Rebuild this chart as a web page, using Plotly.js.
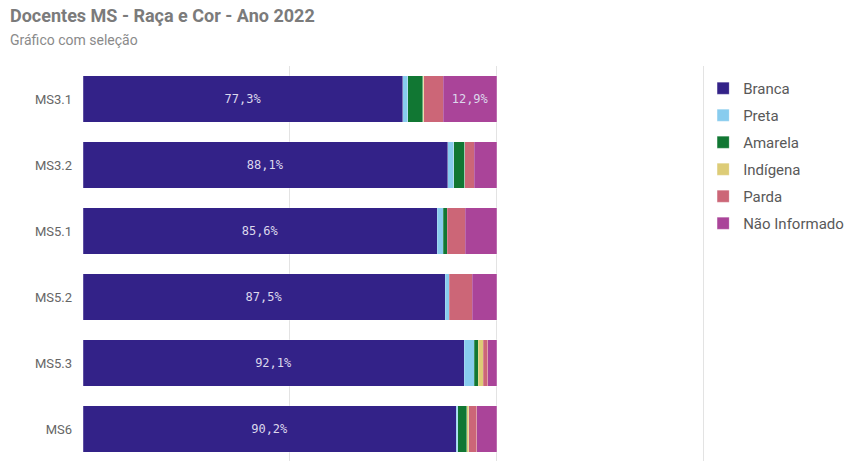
<!DOCTYPE html>
<html>
<head>
<meta charset="utf-8">
<script src="https://cdn.plot.ly/plotly-3.0.1.min.js"></script>
<style>
html,body{margin:0;padding:0;background:#fff;}
#chart{width:859px;height:461px;}
</style>
</head>
<body>
<div id="chart"></div>
<script>
const categories = ["MS3.1", "MS3.2", "MS5.1", "MS5.2", "MS5.3", "MS6"];
const seriesNames = ["Branca", "Preta", "Amarela", "Indígena", "Parda", "Não Informado"];
const branca      = [77.3, 88.1, 85.6, 87.5, 92.1, 90.2];
const preta       = [1.2, 1.5, 1.4, 1.0, 2.4, 0.3];
const amarela     = [3.6, 2.6, 1.0, 0.0, 1.0, 2.2];
const indigena    = [0.2, 0.0, 0.0, 0.0, 1.2, 0.5];
const parda       = [4.8, 2.3, 4.4, 5.5, 1.1, 2.0];
const naoInformado= [12.9, 5.5, 7.6, 6.0, 2.2, 4.8];
const colors = ["#332288", "#88ccee", "#117733", "#ddcc77", "#cc6677", "#aa4499"];

const seriesValues = [branca, preta, amarela, indigena, parda, naoInformado];
function fmt(v){ return v.toFixed(1).replace('.', ',') + '%'; }

const traces = seriesValues.map((vals, i) => {
  let text;
  if (i === 0) text = vals.map(fmt);
  else if (i === 5) text = vals.map(v => v >= 10 ? fmt(v) : '');
  else text = vals.map(() => '');
  return {
    type: 'bar',
    orientation: 'h',
    name: seriesNames[i],
    y: categories,
    x: vals,
    legendgroup: 'g' + i,
    marker: {color: colors[i], line: {color: 'rgba(255,255,255,0.35)', width: 0.6}},
    text: text,
    textposition: 'inside',
    insidetextanchor: 'middle',
    textangle: 0,
    textfont: {family: 'DejaVu Sans Mono', size: 12, color: '#dcd8ec'},
    hoverinfo: 'name+x'
  };
});

const layout = {
  width: 859, height: 461,
  barmode: 'stack',
  bargap: 0.3,
  paper_bgcolor: '#fff',
  plot_bgcolor: '#fff',
  margin: {l: 83, r: 154, t: 66, b: 0},
  font: {family: 'Roboto, sans-serif', color: '#595959'},
  showlegend: true,
  xaxis: {
    range: [0, 150.3],
    tickvals: [0, 50, 100, 150],
    showticklabels: false,
    showgrid: true,
    gridcolor: '#e3e3e3',
    gridwidth: 1,
    zeroline: false,
    fixedrange: true
  },
  yaxis: {
    type: 'category',
    categoryorder: 'array',
    categoryarray: categories,
    range: [5.485, -0.5],
    showgrid: false,
    zeroline: false,
    ticks: '',
    ticklen: 0,
    tickfont: {size: 13, color: '#666666'},
    ticklabelstandoff: 10
  },
  legend: {
    x: 0.997, xanchor: 'left',
    y: 0.985, yanchor: 'top',
    traceorder: 'grouped',
    tracegroupgap: 4.5,
    font: {size: 15, color: '#595959'},
    bgcolor: 'rgba(0,0,0,0)'
  },
  annotations: [
    {text: '<b>Docentes MS - Raça e Cor - Ano 2022</b>', xref: 'paper', yref: 'paper',
     x: 0, y: 1, xanchor: 'left', yanchor: 'top', showarrow: false,
     xshift: -75, yshift: 63, font: {size: 18, color: '#7b7b7b'}},
    {text: 'Gráfico com seleção', xref: 'paper', yref: 'paper',
     x: 0, y: 1, xanchor: 'left', yanchor: 'top', showarrow: false,
     xshift: -75, yshift: 36, font: {size: 14, color: '#8a8a8a'}}
  ]
};

Plotly.newPlot('chart', traces, layout, {displayModeBar: false, staticPlot: true});
</script>
</body>
</html>
